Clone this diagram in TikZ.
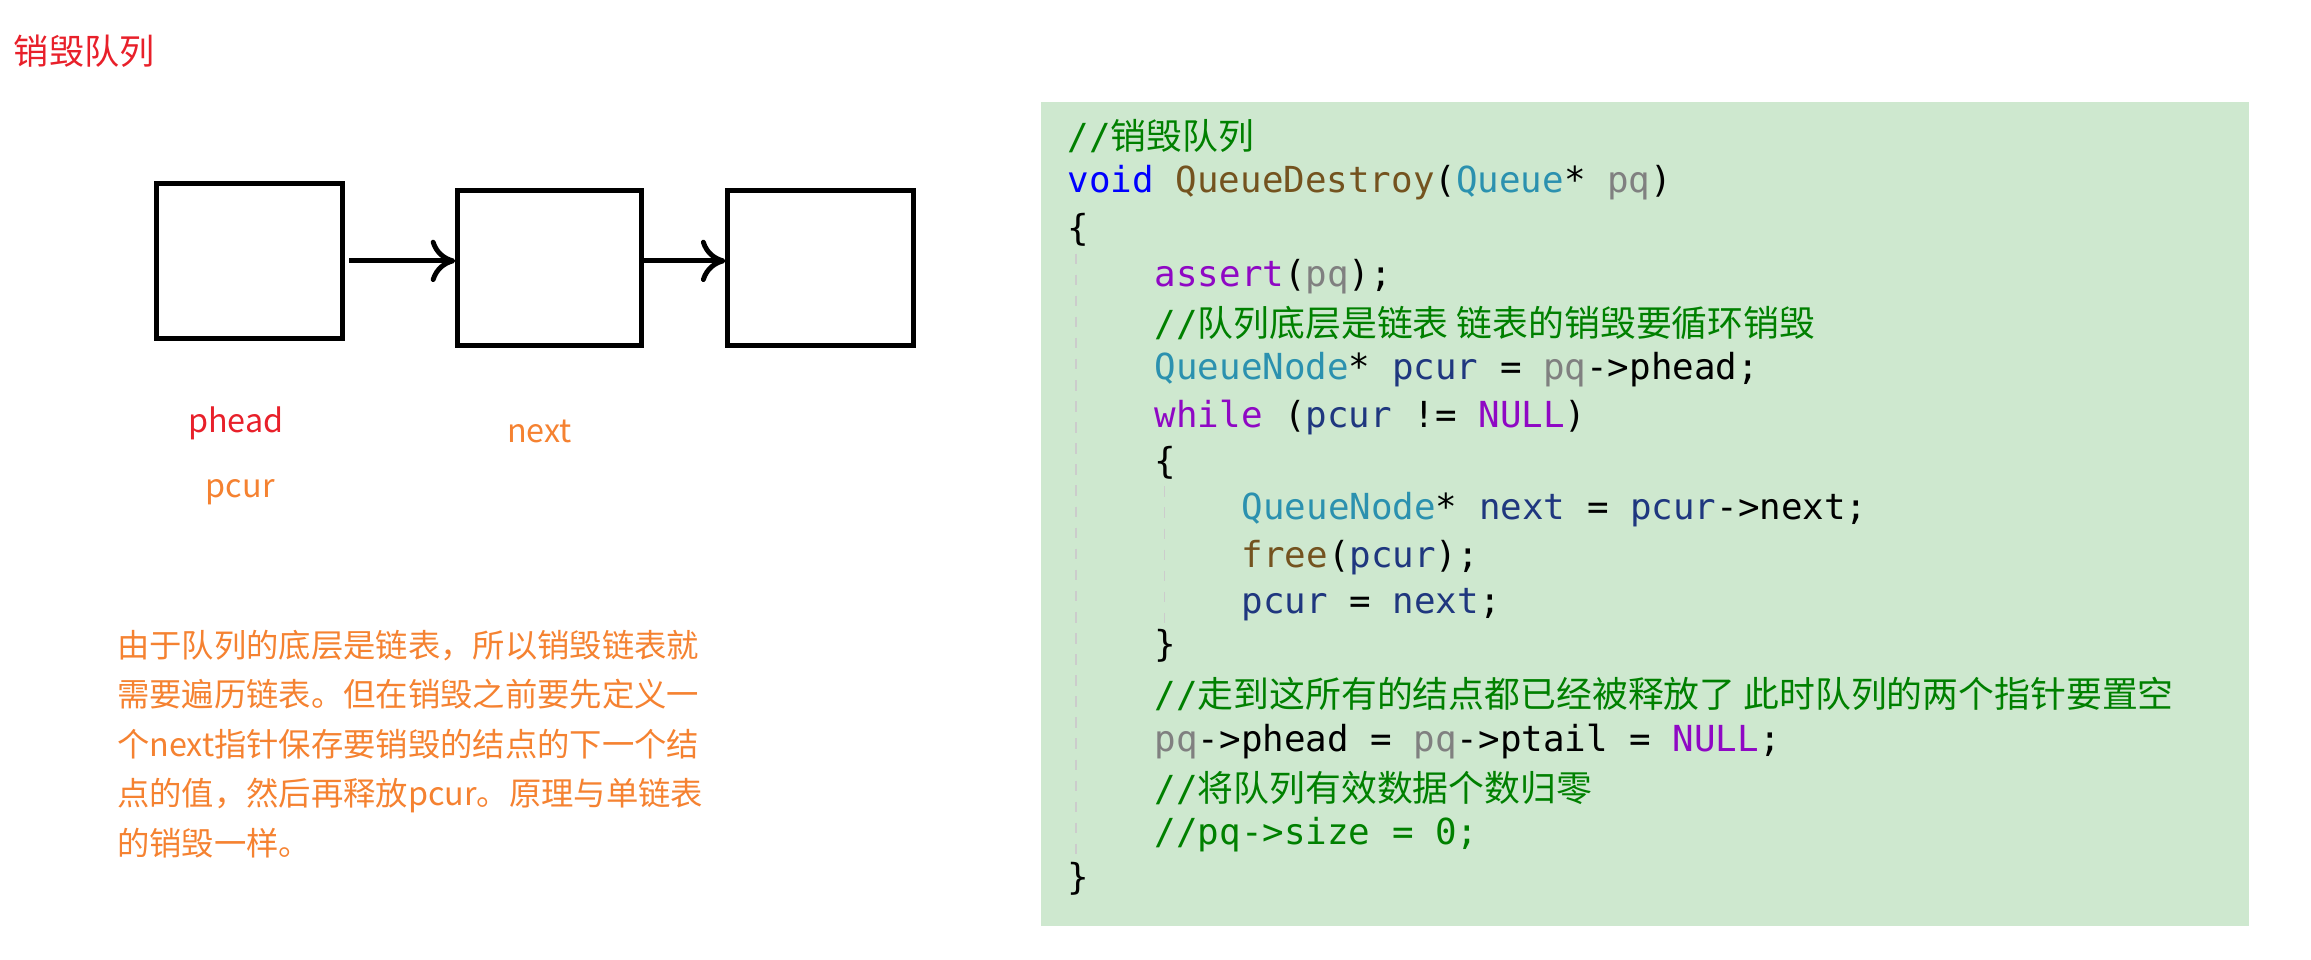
\documentclass[tikz,border=0pt]{standalone}
\usepackage{fontspec}
\setmainfont{Noto Sans CJK SC}
\newfontfamily\cjk{Noto Sans CJK SC}
\newfontfamily\codefont{DejaVu Sans Mono}
\usetikzlibrary{arrows.meta}
\definecolor{titlered}{HTML}{E8202A}
\definecolor{noteorange}{HTML}{F58231}
\definecolor{codebg}{HTML}{CEE8CF}
\definecolor{kw}{HTML}{0000FF}
\definecolor{fn}{HTML}{74531F}
\definecolor{ty}{HTML}{2B91AF}
\definecolor{pa}{HTML}{808080}
\definecolor{cm}{HTML}{008000}
\definecolor{mc}{HTML}{8F08C4}
\definecolor{va}{HTML}{1F377F}
\newcommand{\K}[2]{\textcolor{#1}{#2}}
\newcommand{\C}[1]{\textcolor{cm}{//{\cjk #1}}}
\tikzset{
  box/.style={draw, line width=1.4pt, minimum width=126pt, minimum height=105pt, inner sep=0pt},
  link/.style={line width=1.4pt, -{To[length=7pt,width=12pt]}},
  code/.style={anchor=west, inner sep=0pt, font=\codefont\fontsize{10.2}{12}\selectfont},
}
\begin{document}
\begin{tikzpicture}[x=0.01474cm, y=-0.01474cm]
\useasboundingbox (0,0) rectangle (1568,651);
% left part
\node [anchor=west, inner sep=0pt, text=titlered, font=\fontsize{10}{12}\selectfont] (title) at (9,35) {销毁队列};
\node [box, minimum width=1.86cm, minimum height=1.55cm] (b1) at (169,177) {};
\node [box, minimum width=1.84cm, minimum height=1.55cm] (b2) at (373,182) {};
\node [box, minimum width=1.86cm, minimum height=1.55cm] (b3) at (557,182) {};
\coordinate (a1) at (237,177);
\coordinate (a2) at (437,177);
\draw [link] (a1) -- (b2.west |- a1);
\draw [link] (a2) -- (b3.west |- a2);
\node [text=titlered, font=\fontsize{9.2}{11}\selectfont] (phead) at (160,287) {phead};
\node [text=noteorange, font=\fontsize{9.2}{11}\selectfont] (next) at (366,293) {next};
\node [text=noteorange, font=\fontsize{9.2}{11}\selectfont] (pcur) at (163,334) {pcur};
\node [anchor=north west, inner sep=0pt, text=noteorange, align=left, font=\fontsize{9.2}{14.1}\selectfont] (note) at (79,427)
  {由于队列的底层是链表，所以销毁链表就\\需要遍历链表。但在销毁之前要先定义一\\个next指针保存要销毁的结点的下一个结\\点的值，然后再释放pcur。原理与单链表\\的销毁一样。};
% code
\fill [codebg] (706,69) rectangle (1526,628);
\foreach \x/\ya/\yb in {730/172/590, 790/330/430} {
  \draw [pa!40, dashed, line width=0.4pt] (\x,\ya) -- (\x,\yb);
}
\node [code] (l1) at (724,92) {\C{销毁队列}};
\node [code] (l2) at (724,124) {\K{kw}{void} \K{fn}{QueueDestroy}(\K{ty}{Queue}* \K{pa}{pq})};
\node [code] (l3) at (724,156) {\{};
\node [code] (l4) at (783,188) {\K{mc}{assert}(\K{pa}{pq});};
\node [code] (l5) at (783,219) {\C{队列底层是链表 链表的销毁要循环销毁}};
\node [code] (l6) at (783,251) {\K{ty}{QueueNode}* \K{va}{pcur} = \K{pa}{pq}->phead;};
\node [code] (l7) at (783,283) {\K{mc}{while} (\K{va}{pcur} != \K{mc}{NULL})};
\node [code] (l8) at (783,314) {\{};
\node [code] (l9) at (842,346) {\K{ty}{QueueNode}* \K{va}{next} = \K{va}{pcur}->next;};
\node [code] (l10) at (842,378) {\K{fn}{free}(\K{va}{pcur});};
\node [code] (l11) at (842,410) {\K{va}{pcur} = \K{va}{next};};
\node [code] (l12) at (783,438) {\}};
\node [code] (l13) at (783,471) {\C{走到这所有的结点都已经被释放了 此时队列的两个指针要置空}};
\node [code] (l14) at (783,503) {\K{pa}{pq}->phead = \K{pa}{pq}->ptail = \K{mc}{NULL};};
\node [code] (l15) at (783,535) {\C{将队列有效数据个数归零}};
\node [code] (l16) at (783,566) {\textcolor{cm}{//pq->size = 0;}};
\node [code] (l17) at (724,596) {\}};
\end{tikzpicture}
\end{document}
